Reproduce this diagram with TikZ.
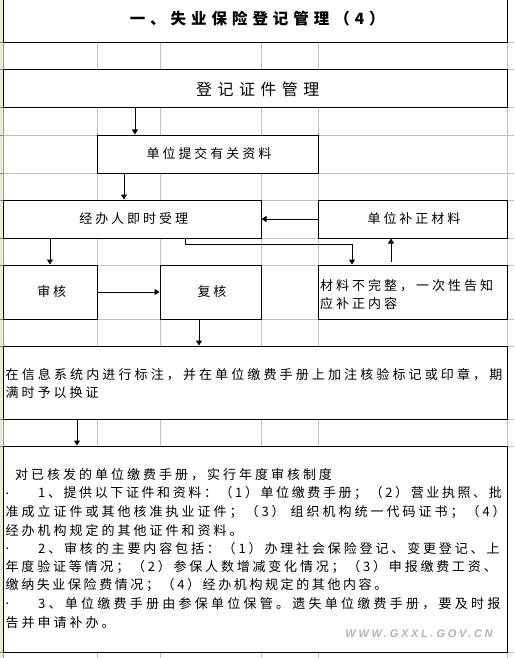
\documentclass[tikz,border=0pt]{standalone}
\usepackage{fontspec}
\setmainfont{Noto Sans CJK SC}
\newfontfamily\cjk[LetterSpace=23]{Noto Sans CJK SC}
\newfontfamily\cjktitle[LetterSpace=32]{Noto Sans CJK SC}
\newfontfamily\cjkbig[LetterSpace=34]{Noto Sans CJK SC}
\newfontfamily\wmfont[LetterSpace=25]{Liberation Sans}
\usetikzlibrary{arrows.meta}
\definecolor{gridgray}{RGB}{192,192,192}
\definecolor{beige}{RGB}{236,233,216}
\definecolor{beigeline}{RGB}{158,154,134}
\newcommand{\ls}[1]{\addfontfeatures{LetterSpace=#1}}
\tikzset{
  box/.style={draw=black, line width=1pt, fill=white, inner sep=0pt, font=\cjk\fontsize{13pt}{15pt}\selectfont},
  txt/.style={inner sep=0pt, anchor=west, font=\cjk\fontsize{13pt}{15pt}\selectfont},
  arr/.style={draw=black, line width=1pt, -{Triangle[length=5pt,width=6pt]}},
  gridline/.style={draw=gridgray, line width=1pt}
}
\begin{document}
\begin{tikzpicture}[x=1pt,y=-1pt]
\useasboundingbox (0,0) rectangle (514,658);
\fill[white] (0,0) rectangle (514,658);
% spreadsheet grid
\foreach \yy in {43,70,108,135,173,200,238,265,319,346,419,446,652}
  \draw[gridline] (3,\yy) -- (514,\yy);
\foreach \xx in {97,160,261,318,507}
  \draw[gridline] (\xx,0) -- (\xx,658);
% left frame strip
\fill[beige] (0,0) rectangle (3,658);
\draw[beigeline, line width=1pt] (3,0) -- (3,658);
\foreach \yy in {43,70,108,135,173,200,238,265,319,346,419,446,652}
  \draw[gray, line width=1pt] (0,\yy) -- (3,\yy);

% boxes
\node[box, minimum width=503.5pt, minimum height=48pt,
      font=\cjktitle\bfseries\fontsize{15.5pt}{17pt}\selectfont] (title) at (255.25,19) {\hspace*{4pt}一、失业保险登记管理（4）};
\node[box, minimum width=503.5pt, minimum height=38pt,
      font=\cjkbig\fontsize{16pt}{18pt}\selectfont] (reg) at (255.25,89) {\hspace*{5pt}登记证件管理};
\node[box, minimum width=221pt, minimum height=38pt] (sub) at (207.5,154) {\hspace*{3pt}单位提交有关资料};
\node[box, minimum width=257.5pt, minimum height=38pt] (accept) at (132.25,219) {\hspace*{3pt}经办人即时受理};
\node[box, minimum width=189pt, minimum height=38pt] (fix) at (412.5,219) {\hspace*{3pt}单位补正材料};
\node[box, minimum width=93.5pt, minimum height=54pt] (audit) at (50.25,292) {\hspace*{3pt}审核};
\node[box, minimum width=101pt, minimum height=54pt] (review) at (210.5,292) {\hspace*{3pt}复核};
\node[box, minimum width=189pt, minimum height=54pt] (incomplete) at (412.5,292) {};
\node[box, minimum width=503.5pt, minimum height=73pt] (mark) at (255.25,382.5) {};
\node[box, minimum width=503.5pt, minimum height=206pt] (annual) at (255.25,549) {};

% texts inside boxes
\node[txt] (inc1) at (320,286) {材料不完整，一次性告知};
\node[txt] (inc2) at (320,304) {应补正内容};
\node[txt] (mk1) at (5.5,375) {\ls{24}在信息系统内进行标注，并在单位缴费手册上加注核验标记或印章，期};
\node[txt] (mk2) at (5.5,393) {满时予以换证};

\node[txt] (a0) at (15,475) {对已核发的单位缴费手册，实行年度审核制度};
\node[txt] (d1) at (5.5,493.4) {.};
\node[txt] (a1) at (38,493.4) {\ls{20}1、提供以下证件和资料：（1）单位缴费手册；（2）营业执照、批};
\node[txt] (a2) at (5.5,511.8) {准成立证件或其他核准执业证件；（3） 组织机构统一代码证书；（4）};
\node[txt] (a3) at (5.5,530.2) {经办机构规定的其他证件和资料。};
\node[txt] (d4) at (5.5,548.6) {.};
\node[txt] (a4) at (38,548.6) {\ls{22}2、审核的主要内容包括：（1）办理社会保险登记、变更登记、上};
\node[txt] (a5) at (5.5,567) {\ls{21.5}年度验证等情况；（2）参保人数增减变化情况；（3）申报缴费工资、};
\node[txt] (a6) at (5.5,585.4) {\ls{20}缴纳失业保险费情况；（4）经办机构规定的其他内容。};
\node[txt] (d7) at (5.5,603.8) {.};
\node[txt] (a7) at (38,603.8) {\ls{25}3、单位缴费手册由参保单位保管。遗失单位缴费手册，要及时报};
\node[txt] (a8) at (5.5,622.2) {告并申请补办。};

% watermark
\node[inner sep=0pt, text=gray!60, font=\wmfont\bfseries\itshape\fontsize{11pt}{13pt}\selectfont] (wm) at (419,634) {WWW.GXXL.GOV.CN};

% connectors
\coordinate (c1) at (135,0);
\coordinate (c2) at (124,0);
\coordinate (c4) at (50,0);
\coordinate (e1) at (185,244);
\coordinate (e2) at (352,244);
\coordinate (c6) at (391,0);
\coordinate (c8) at (199,0);
\coordinate (c9) at (77,0);
\draw[arr] (reg.south -| c1) -- (sub.north -| c1);
\draw[arr] (sub.south -| c2) -- (accept.north -| c2);
\draw[arr] (fix.west) -- (accept.east);
\draw[arr] (accept.south -| c4) -- (audit.north -| c4);
\draw[arr] (accept.south -| e1) -- (e1) -- (e2) -- (incomplete.north -| e2);
\draw[arr, shorten <=3pt] (incomplete.north -| c6) -- (fix.south -| c6);
\draw[arr] (audit.east) -- (review.west);
\draw[arr] (review.south -| c8) -- (mark.north -| c8);
\draw[arr] (mark.south -| c9) -- (annual.north -| c9);
\end{tikzpicture}
\end{document}
